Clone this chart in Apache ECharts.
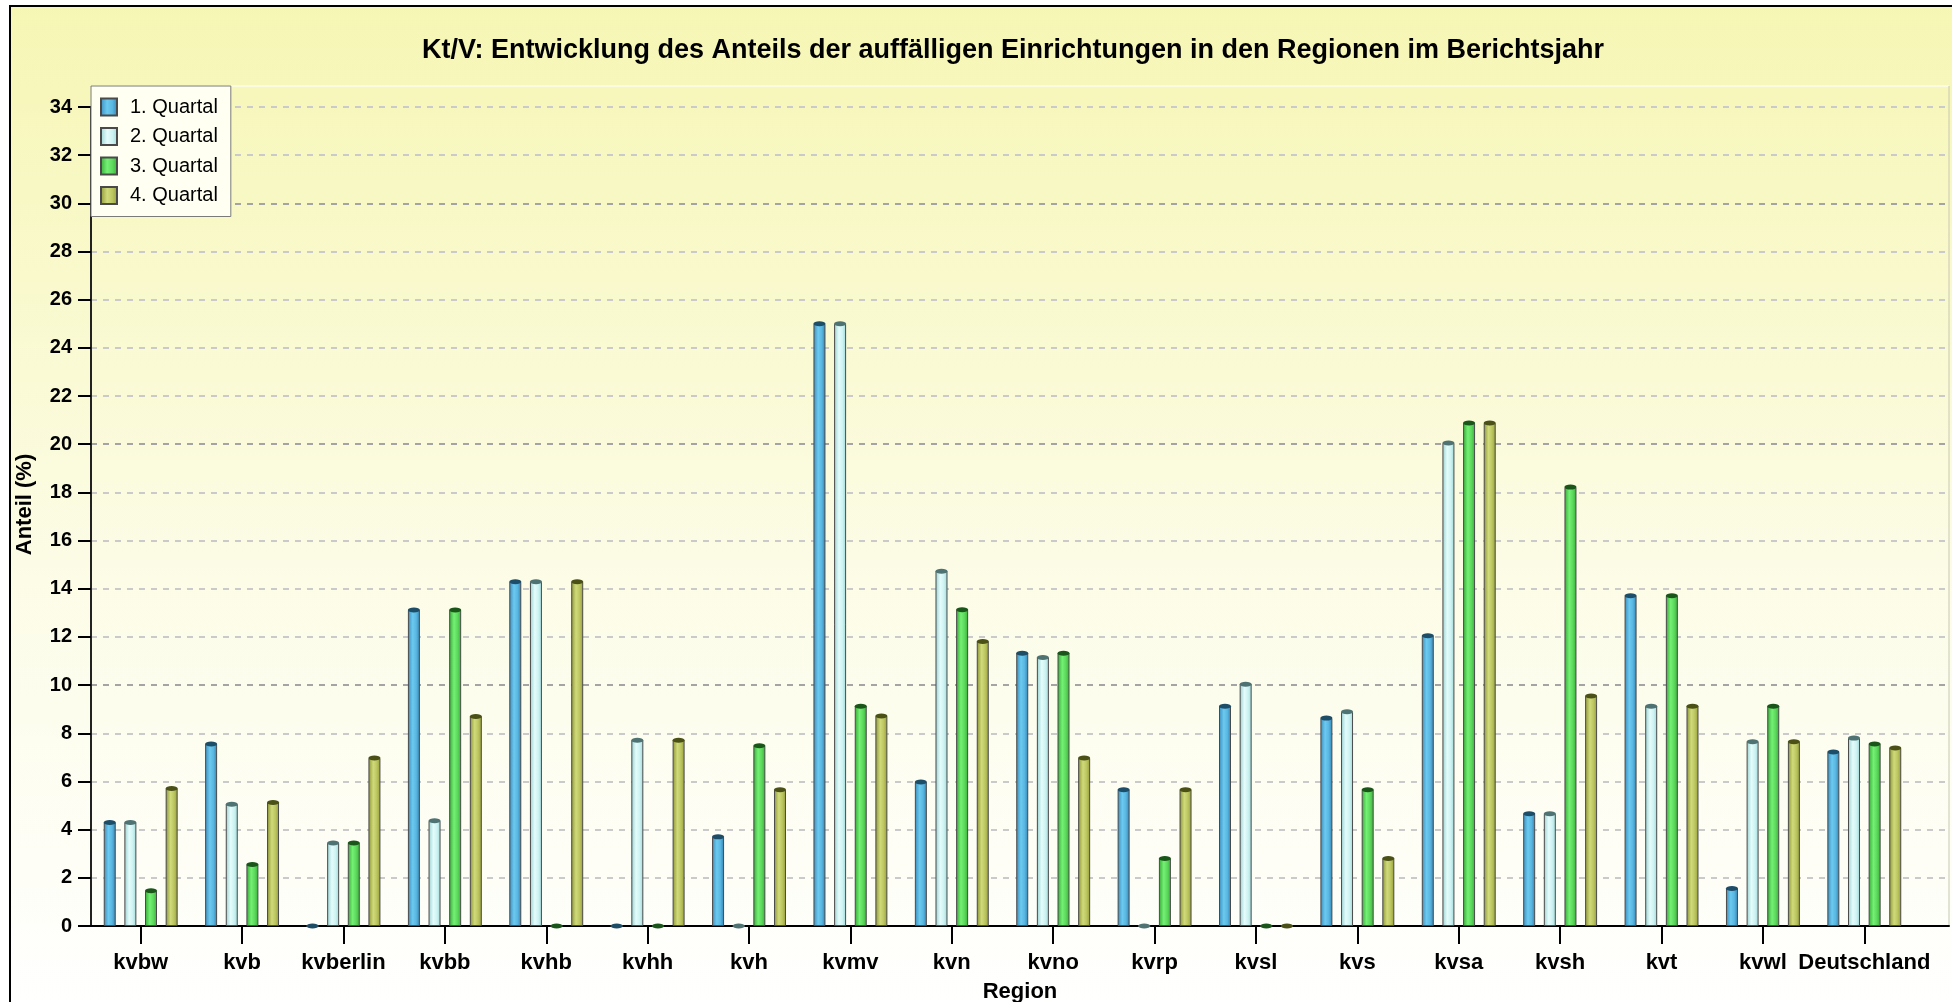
<!DOCTYPE html>
<html>
<head>
<meta charset="utf-8">
<script src="https://cdn.jsdelivr.net/npm/echarts@6/dist/echarts.min.js"></script>
<style>
html,body{margin:0;padding:0;background:#ffffff;}
#chart{width:1952px;height:1002px;}
</style>
</head>
<body>
<div id="chart"></div>
<script>
var titleText = 'Kt/V: Entwicklung des Anteils der auffälligen Einrichtungen in den Regionen im Berichtsjahr';
var categories = ['kvbw','kvb','kvberlin','kvbb','kvhb','kvhh','kvh','kvmv','kvn','kvno','kvrp','kvsl','kvs','kvsa','kvsh','kvt','kvwl','Deutschland'];
var seriesNames = ['1. Quartal','2. Quartal','3. Quartal','4. Quartal'];
var q1 = [4.30, 7.56, 0, 13.12, 14.29, 0, 3.70, 25.00, 5.98, 11.32, 5.66, 9.12, 8.63, 12.05, 4.66, 13.71, 1.56, 7.22];
var q2 = [4.30, 5.05, 3.45, 4.37, 14.29, 7.71, 0, 25.00, 14.73, 11.15, 0, 10.04, 8.89, 20.05, 4.66, 9.12, 7.65, 7.80];
var q3 = [1.46, 2.55, 3.45, 13.12, 0, 0, 7.48, 9.12, 13.13, 11.32, 2.80, 0, 5.66, 20.88, 18.22, 13.71, 9.12, 7.56];
var q4 = [5.71, 5.13, 6.97, 8.70, 14.29, 7.71, 5.66, 8.72, 11.81, 6.97, 5.66, 0, 2.80, 20.88, 9.55, 9.12, 7.65, 7.39];
var yMin = 0, yMax = 34, yStep = 2;
var yAxisName = 'Anteil (%)';
var xAxisName = 'Region';

var FONT = '"Liberation Sans", Arial, sans-serif';
var values = [q1, q2, q3, q4];
var gradStops = [
  [['#3a8cbc',0],['#6ccaf0',0.4],['#58b6e0',0.7],['#3582b2',1]],
  [['#98d0d0',0],['#e4fcfb',0.4],['#cdf3f2',0.7],['#9fd8d8',1]],
  [['#34a834',0],['#74f074',0.4],['#5cd85c',0.7],['#3aae3a',1]],
  [['#8c9434',0],['#d0da7a',0.4],['#bcc660',0.7],['#949c3c',1]]
];
var capColors = ['#1e4d68','#4f7373','#1a561a','#4a5016'];
function grad(i){
  return new echarts.graphic.LinearGradient(0,0,1,0, gradStops[i].map(function(s){return {offset:s[1], color:s[0]};}));
}

var series = [];
seriesNames.forEach(function(n,i){
  series.push({
    type:'bar', name:n, xAxisIndex:1, yAxisIndex:1,
    data: values[i], barWidth: 12, barGap: '72%',
    itemStyle:{color:grad(i), borderColor:'#4a4a4a', borderWidth:1},
    emphasis:{disabled:true}, z:3
  });
});
seriesNames.forEach(function(n,i){
  series.push({
    type:'pictorialBar', name:n, xAxisIndex:1, yAxisIndex:1,
    data: values[i], symbol:'circle', symbolSize:[12,5],
    symbolPosition:'end', symbolOffset:[0,'-50%'],
    barWidth: 12, barGap: '72%',
    itemStyle:{color:capColors[i]}, z:4, legendHoverLink:false,
    emphasis:{disabled:true}
  });
});

var chart = echarts.init(document.getElementById('chart'), null, {renderer:'canvas'});
chart.setOption({
  animation:false,
  backgroundColor:'#ffffff',
  textStyle:{fontFamily:FONT},
  graphic:[
    {type:'rect', z:-10, silent:true, shape:{x:10,y:6,width:1960,height:1010},
     style:{fill:new echarts.graphic.LinearGradient(0,0,0,1,[{offset:0,color:'#f6f6b4'},{offset:0.55,color:'#fcfce6'},{offset:1,color:'#ffffff'}]), stroke:'#000000', lineWidth:2}},
    {type:'line', z:-5, silent:true, shape:{x1:91,y1:86,x2:1949,y2:86}, style:{stroke:'#fbfbe2', lineWidth:2}},
    {type:'line', z:-5, silent:true, shape:{x1:1949,y1:86,x2:1949,y2:926}, style:{stroke:'#c8c8b0', lineWidth:1}}
  ],
  title:{text:titleText, left:1013, textAlign:'center', top:37, padding:0,
    textStyle:{fontFamily:FONT, fontSize:27, fontWeight:'bold', color:'#000'}},
  legend:{
    data:seriesNames, orient:'vertical', left:91, top:86,
    backgroundColor:'#fffff2', borderColor:'#7a7a7a', borderWidth:1,
    padding:[11,13,11,9], itemWidth:16, itemHeight:17, itemGap:9.5, icon:'rect',
    textStyle:{fontFamily:FONT, fontSize:20, lineHeight:17, color:'#000', padding:[0,0,0,8]},
    selectedMode:true
  },
  grid:[
    {left:91, right:3, top:107, bottom:76, containLabel:false, outerBoundsMode:'none'},
    {left:90, width:1825, top:107, bottom:76, containLabel:false, outerBoundsMode:'none'}
  ],
  xAxis:[
    {type:'value', gridIndex:0, min:0, max:1, show:true,
     axisLine:{show:true, onZero:false, lineStyle:{color:'#000', width:2}},
     axisTick:{show:false}, axisLabel:{show:false}, splitLine:{show:false},
     name:xAxisName, nameLocation:'middle', nameGap:55,
     nameTextStyle:{fontFamily:FONT, fontSize:22, fontWeight:'bold', color:'#000'}},
    {type:'category', gridIndex:1, data:categories, boundaryGap:true,
     axisLine:{show:false},
     axisTick:{show:true, alignWithLabel:true, length:18, lineStyle:{color:'#000', width:2}},
     axisLabel:{fontFamily:FONT, fontSize:22, fontWeight:'bold', color:'#000', margin:26, interval:0},
     splitLine:{show:false}}
  ],
  yAxis:[
    {type:'value', gridIndex:0, min:yMin, max:yMax, interval:yStep,
     axisLine:{show:true, lineStyle:{color:'#222', width:2}},
     axisTick:{show:true, length:13, lineStyle:{color:'#000', width:2}},
     axisLabel:{fontFamily:FONT, fontSize:20, fontWeight:'bold', color:'#000', margin:19},
     splitLine:{show:true, lineStyle:{type:[6,6], width:2, color:['#a4a4a4','#cacaca','#cacaca','#cacaca','#cacaca']}},
     name:yAxisName, nameLocation:'middle', nameGap:55, nameRotate:90,
     nameTextStyle:{fontFamily:FONT, fontSize:22, fontWeight:'bold', color:'#000', padding:[0,0,0,24]}},
    {type:'value', gridIndex:1, min:yMin, max:yMax, interval:yStep, show:false,
     splitLine:{show:false}}
  ],
  series:series
});
</script>
</body>
</html>
